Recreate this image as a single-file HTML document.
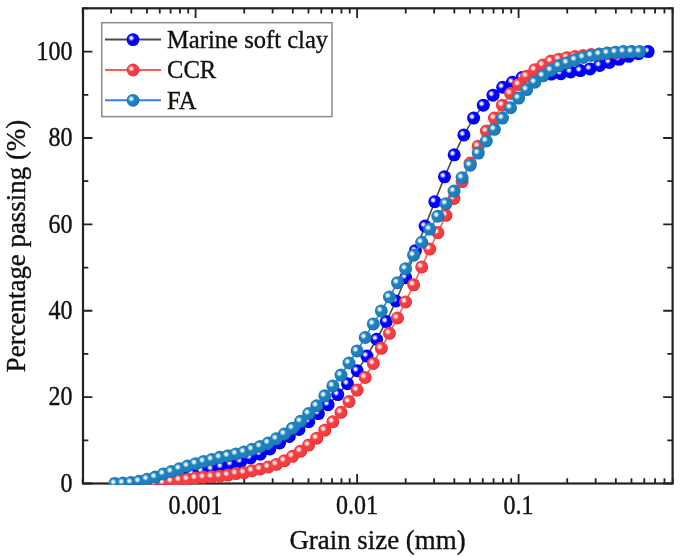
<!DOCTYPE html><html><head><meta charset="utf-8"><style>html,body{margin:0;padding:0;background:#fff;}svg{display:block;filter:blur(0.45px);}text{font-family:"Liberation Serif",serif;fill:#111;stroke:#111;stroke-width:0.35px;}</style></head><body><svg width="685" height="557" viewBox="0 0 685 557"><defs><radialGradient id="gb" cx="0.37" cy="0.38" r="0.7" fx="0.37" fy="0.38"><stop offset="0" stop-color="#f0f0ff"/><stop offset="0.1" stop-color="#f0f0ff"/><stop offset="0.36" stop-color="#0000ff"/><stop offset="0.74" stop-color="#0000ff"/><stop offset="0.98" stop-color="#0000d0"/></radialGradient><radialGradient id="gr" cx="0.37" cy="0.38" r="0.7" fx="0.37" fy="0.38"><stop offset="0" stop-color="#fff0f0"/><stop offset="0.1" stop-color="#fff0f0"/><stop offset="0.36" stop-color="#f53c40"/><stop offset="0.74" stop-color="#f53c40"/><stop offset="0.98" stop-color="#d52a30"/></radialGradient><radialGradient id="gf" cx="0.37" cy="0.38" r="0.7" fx="0.37" fy="0.38"><stop offset="0" stop-color="#eef6fa"/><stop offset="0.1" stop-color="#eef6fa"/><stop offset="0.36" stop-color="#1c80bf"/><stop offset="0.74" stop-color="#1c80bf"/><stop offset="0.98" stop-color="#15659a"/></radialGradient><clipPath id="cp"><rect x="83.0" y="8.3" width="589.6" height="476.4"/></clipPath></defs><rect width="685" height="557" fill="#fff"/><path d="M82.72 483.50V478.20 M82.72 8.30V13.60 M111.16 483.50V478.20 M111.16 8.30V13.60 M131.33 483.50V478.20 M131.33 8.30V13.60 M146.98 483.50V478.20 M146.98 8.30V13.60 M159.77 483.50V478.20 M159.77 8.30V13.60 M170.58 483.50V478.20 M170.58 8.30V13.60 M179.95 483.50V478.20 M179.95 8.30V13.60 M188.21 483.50V478.20 M188.21 8.30V13.60 M195.60 483.50V473.90 M195.60 8.30V17.90 M244.22 483.50V478.20 M244.22 8.30V13.60 M272.66 483.50V478.20 M272.66 8.30V13.60 M292.83 483.50V478.20 M292.83 8.30V13.60 M308.48 483.50V478.20 M308.48 8.30V13.60 M321.27 483.50V478.20 M321.27 8.30V13.60 M332.08 483.50V478.20 M332.08 8.30V13.60 M341.45 483.50V478.20 M341.45 8.30V13.60 M349.71 483.50V478.20 M349.71 8.30V13.60 M357.10 483.50V473.90 M357.10 8.30V17.90 M405.72 483.50V478.20 M405.72 8.30V13.60 M434.16 483.50V478.20 M434.16 8.30V13.60 M454.33 483.50V478.20 M454.33 8.30V13.60 M469.98 483.50V478.20 M469.98 8.30V13.60 M482.77 483.50V478.20 M482.77 8.30V13.60 M493.58 483.50V478.20 M493.58 8.30V13.60 M502.95 483.50V478.20 M502.95 8.30V13.60 M511.21 483.50V478.20 M511.21 8.30V13.60 M518.60 483.50V473.90 M518.60 8.30V17.90 M567.22 483.50V478.20 M567.22 8.30V13.60 M595.66 483.50V478.20 M595.66 8.30V13.60 M615.83 483.50V478.20 M615.83 8.30V13.60 M631.48 483.50V478.20 M631.48 8.30V13.60 M644.27 483.50V478.20 M644.27 8.30V13.60 M655.08 483.50V478.20 M655.08 8.30V13.60 M664.45 483.50V478.20 M664.45 8.30V13.60 M672.71 483.50V478.20 M672.71 8.30V13.60 M83.00 483.50H92.40 M672.60 483.50H663.20 M83.00 440.31H88.30 M672.60 440.31H667.30 M83.00 397.12H92.40 M672.60 397.12H663.20 M83.00 353.93H88.30 M672.60 353.93H667.30 M83.00 310.74H92.40 M672.60 310.74H663.20 M83.00 267.55H88.30 M672.60 267.55H667.30 M83.00 224.36H92.40 M672.60 224.36H663.20 M83.00 181.17H88.30 M672.60 181.17H667.30 M83.00 137.98H92.40 M672.60 137.98H663.20 M83.00 94.79H88.30 M672.60 94.79H667.30 M83.00 51.60H92.40 M672.60 51.60H663.20 M83.00 8.41H88.30 M672.60 8.41H667.30" stroke="#222" stroke-width="1.8" fill="none"/><rect x="83.0" y="8.3" width="589.6" height="475.2" fill="none" stroke="#222" stroke-width="2.2"/><g clip-path="url(#cp)"><path d="M134.10 483.50 L143.80 483.07 L153.50 481.77 L163.20 480.04 L172.90 477.89 L182.60 475.73 L192.30 473.57 L202.00 471.41 L211.70 469.20 L221.40 467.00 L231.10 464.50 L240.80 461.69 L250.50 458.02 L260.20 454.13 L269.90 448.95 L279.60 442.90 L289.30 436.42 L299.00 429.51 L308.70 421.74 L318.40 413.53 L328.10 404.68 L337.80 394.53 L347.50 383.73 L357.20 370.77 L366.90 356.09 L376.60 339.25 L386.30 321.62 L396.00 300.98 L405.70 277.70 L415.40 250.71 L425.10 226.09 L434.80 201.69 L444.50 176.85 L454.20 154.82 L463.90 134.96 L473.60 118.11 L483.30 105.16 L493.00 95.22 L502.70 87.23 L512.40 82.26 L522.10 77.51 L531.80 76.22 L541.50 74.92 L551.20 74.06 L560.90 73.63 L570.60 71.90 L580.30 70.60 L590.00 68.88 L599.70 65.42 L609.40 62.40 L619.10 59.37 L628.80 56.35 L638.50 53.76 L648.20 51.60" stroke="#4a4a4a" stroke-width="1.6" fill="none"/><circle cx="134.10" cy="483.50" r="6.5" fill="url(#gb)"/><circle cx="143.80" cy="483.07" r="6.5" fill="url(#gb)"/><circle cx="153.50" cy="481.77" r="6.5" fill="url(#gb)"/><circle cx="163.20" cy="480.04" r="6.5" fill="url(#gb)"/><circle cx="172.90" cy="477.89" r="6.5" fill="url(#gb)"/><circle cx="182.60" cy="475.73" r="6.5" fill="url(#gb)"/><circle cx="192.30" cy="473.57" r="6.5" fill="url(#gb)"/><circle cx="202.00" cy="471.41" r="6.5" fill="url(#gb)"/><circle cx="211.70" cy="469.20" r="6.5" fill="url(#gb)"/><circle cx="221.40" cy="467.00" r="6.5" fill="url(#gb)"/><circle cx="231.10" cy="464.50" r="6.5" fill="url(#gb)"/><circle cx="240.80" cy="461.69" r="6.5" fill="url(#gb)"/><circle cx="250.50" cy="458.02" r="6.5" fill="url(#gb)"/><circle cx="260.20" cy="454.13" r="6.5" fill="url(#gb)"/><circle cx="269.90" cy="448.95" r="6.5" fill="url(#gb)"/><circle cx="279.60" cy="442.90" r="6.5" fill="url(#gb)"/><circle cx="289.30" cy="436.42" r="6.5" fill="url(#gb)"/><circle cx="299.00" cy="429.51" r="6.5" fill="url(#gb)"/><circle cx="308.70" cy="421.74" r="6.5" fill="url(#gb)"/><circle cx="318.40" cy="413.53" r="6.5" fill="url(#gb)"/><circle cx="328.10" cy="404.68" r="6.5" fill="url(#gb)"/><circle cx="337.80" cy="394.53" r="6.5" fill="url(#gb)"/><circle cx="347.50" cy="383.73" r="6.5" fill="url(#gb)"/><circle cx="357.20" cy="370.77" r="6.5" fill="url(#gb)"/><circle cx="366.90" cy="356.09" r="6.5" fill="url(#gb)"/><circle cx="376.60" cy="339.25" r="6.5" fill="url(#gb)"/><circle cx="386.30" cy="321.62" r="6.5" fill="url(#gb)"/><circle cx="396.00" cy="300.98" r="6.5" fill="url(#gb)"/><circle cx="405.70" cy="277.70" r="6.5" fill="url(#gb)"/><circle cx="415.40" cy="250.71" r="6.5" fill="url(#gb)"/><circle cx="425.10" cy="226.09" r="6.5" fill="url(#gb)"/><circle cx="434.80" cy="201.69" r="6.5" fill="url(#gb)"/><circle cx="444.50" cy="176.85" r="6.5" fill="url(#gb)"/><circle cx="454.20" cy="154.82" r="6.5" fill="url(#gb)"/><circle cx="463.90" cy="134.96" r="6.5" fill="url(#gb)"/><circle cx="473.60" cy="118.11" r="6.5" fill="url(#gb)"/><circle cx="483.30" cy="105.16" r="6.5" fill="url(#gb)"/><circle cx="493.00" cy="95.22" r="6.5" fill="url(#gb)"/><circle cx="502.70" cy="87.23" r="6.5" fill="url(#gb)"/><circle cx="512.40" cy="82.26" r="6.5" fill="url(#gb)"/><circle cx="522.10" cy="77.51" r="6.5" fill="url(#gb)"/><circle cx="531.80" cy="76.22" r="6.5" fill="url(#gb)"/><circle cx="541.50" cy="74.92" r="6.5" fill="url(#gb)"/><circle cx="551.20" cy="74.06" r="6.5" fill="url(#gb)"/><circle cx="560.90" cy="73.63" r="6.5" fill="url(#gb)"/><circle cx="570.60" cy="71.90" r="6.5" fill="url(#gb)"/><circle cx="580.30" cy="70.60" r="6.5" fill="url(#gb)"/><circle cx="590.00" cy="68.88" r="6.5" fill="url(#gb)"/><circle cx="599.70" cy="65.42" r="6.5" fill="url(#gb)"/><circle cx="609.40" cy="62.40" r="6.5" fill="url(#gb)"/><circle cx="619.10" cy="59.37" r="6.5" fill="url(#gb)"/><circle cx="628.80" cy="56.35" r="6.5" fill="url(#gb)"/><circle cx="638.50" cy="53.76" r="6.5" fill="url(#gb)"/><circle cx="648.20" cy="51.60" r="6.5" fill="url(#gb)"/><path d="M147.15 483.50 L155.22 483.50 L163.30 482.85 L171.38 481.34 L179.45 480.04 L187.53 479.18 L195.60 478.10 L203.67 477.37 L211.75 476.72 L219.82 476.16 L227.90 475.08 L235.97 473.57 L244.05 472.70 L252.12 470.72 L260.20 468.99 L268.27 467.00 L276.35 464.41 L284.43 460.70 L292.50 456.29 L300.57 451.19 L308.65 445.10 L316.73 438.15 L324.80 430.20 L332.88 421.70 L340.95 412.28 L349.02 401.61 L357.10 390.08 L365.17 377.47 L373.25 363.43 L381.32 348.32 L389.40 333.29 L397.48 318.00 L405.55 301.89 L413.62 284.78 L421.70 266.90 L429.77 248.98 L437.85 232.57 L445.92 215.29 L454.00 198.45 L462.08 181.60 L470.15 163.03 L478.23 146.19 L486.30 131.07 L494.38 118.11 L502.45 105.16 L510.52 93.49 L518.60 84.42 L526.67 76.22 L534.75 69.74 L542.83 64.99 L550.90 61.10 L558.98 59.16 L567.05 57.65 L575.12 56.57 L583.20 55.49 L591.27 54.62 L599.35 53.98 L607.42 53.33 L615.50 52.68 L623.58 52.25 L631.65 51.82" stroke="#ff5a5a" stroke-width="1.6" fill="none"/><circle cx="147.15" cy="483.50" r="6.5" fill="url(#gr)"/><circle cx="155.22" cy="483.50" r="6.5" fill="url(#gr)"/><circle cx="163.30" cy="482.85" r="6.5" fill="url(#gr)"/><circle cx="171.38" cy="481.34" r="6.5" fill="url(#gr)"/><circle cx="179.45" cy="480.04" r="6.5" fill="url(#gr)"/><circle cx="187.53" cy="479.18" r="6.5" fill="url(#gr)"/><circle cx="195.60" cy="478.10" r="6.5" fill="url(#gr)"/><circle cx="203.67" cy="477.37" r="6.5" fill="url(#gr)"/><circle cx="211.75" cy="476.72" r="6.5" fill="url(#gr)"/><circle cx="219.82" cy="476.16" r="6.5" fill="url(#gr)"/><circle cx="227.90" cy="475.08" r="6.5" fill="url(#gr)"/><circle cx="235.97" cy="473.57" r="6.5" fill="url(#gr)"/><circle cx="244.05" cy="472.70" r="6.5" fill="url(#gr)"/><circle cx="252.12" cy="470.72" r="6.5" fill="url(#gr)"/><circle cx="260.20" cy="468.99" r="6.5" fill="url(#gr)"/><circle cx="268.27" cy="467.00" r="6.5" fill="url(#gr)"/><circle cx="276.35" cy="464.41" r="6.5" fill="url(#gr)"/><circle cx="284.43" cy="460.70" r="6.5" fill="url(#gr)"/><circle cx="292.50" cy="456.29" r="6.5" fill="url(#gr)"/><circle cx="300.57" cy="451.19" r="6.5" fill="url(#gr)"/><circle cx="308.65" cy="445.10" r="6.5" fill="url(#gr)"/><circle cx="316.73" cy="438.15" r="6.5" fill="url(#gr)"/><circle cx="324.80" cy="430.20" r="6.5" fill="url(#gr)"/><circle cx="332.88" cy="421.70" r="6.5" fill="url(#gr)"/><circle cx="340.95" cy="412.28" r="6.5" fill="url(#gr)"/><circle cx="349.02" cy="401.61" r="6.5" fill="url(#gr)"/><circle cx="357.10" cy="390.08" r="6.5" fill="url(#gr)"/><circle cx="365.17" cy="377.47" r="6.5" fill="url(#gr)"/><circle cx="373.25" cy="363.43" r="6.5" fill="url(#gr)"/><circle cx="381.32" cy="348.32" r="6.5" fill="url(#gr)"/><circle cx="389.40" cy="333.29" r="6.5" fill="url(#gr)"/><circle cx="397.48" cy="318.00" r="6.5" fill="url(#gr)"/><circle cx="405.55" cy="301.89" r="6.5" fill="url(#gr)"/><circle cx="413.62" cy="284.78" r="6.5" fill="url(#gr)"/><circle cx="421.70" cy="266.90" r="6.5" fill="url(#gr)"/><circle cx="429.77" cy="248.98" r="6.5" fill="url(#gr)"/><circle cx="437.85" cy="232.57" r="6.5" fill="url(#gr)"/><circle cx="445.92" cy="215.29" r="6.5" fill="url(#gr)"/><circle cx="454.00" cy="198.45" r="6.5" fill="url(#gr)"/><circle cx="462.08" cy="181.60" r="6.5" fill="url(#gr)"/><circle cx="470.15" cy="163.03" r="6.5" fill="url(#gr)"/><circle cx="478.23" cy="146.19" r="6.5" fill="url(#gr)"/><circle cx="486.30" cy="131.07" r="6.5" fill="url(#gr)"/><circle cx="494.38" cy="118.11" r="6.5" fill="url(#gr)"/><circle cx="502.45" cy="105.16" r="6.5" fill="url(#gr)"/><circle cx="510.52" cy="93.49" r="6.5" fill="url(#gr)"/><circle cx="518.60" cy="84.42" r="6.5" fill="url(#gr)"/><circle cx="526.67" cy="76.22" r="6.5" fill="url(#gr)"/><circle cx="534.75" cy="69.74" r="6.5" fill="url(#gr)"/><circle cx="542.83" cy="64.99" r="6.5" fill="url(#gr)"/><circle cx="550.90" cy="61.10" r="6.5" fill="url(#gr)"/><circle cx="558.98" cy="59.16" r="6.5" fill="url(#gr)"/><circle cx="567.05" cy="57.65" r="6.5" fill="url(#gr)"/><circle cx="575.12" cy="56.57" r="6.5" fill="url(#gr)"/><circle cx="583.20" cy="55.49" r="6.5" fill="url(#gr)"/><circle cx="591.27" cy="54.62" r="6.5" fill="url(#gr)"/><circle cx="599.35" cy="53.98" r="6.5" fill="url(#gr)"/><circle cx="607.42" cy="53.33" r="6.5" fill="url(#gr)"/><circle cx="615.50" cy="52.68" r="6.5" fill="url(#gr)"/><circle cx="623.58" cy="52.25" r="6.5" fill="url(#gr)"/><circle cx="631.65" cy="51.82" r="6.5" fill="url(#gr)"/><path d="M114.85 483.50 L122.92 482.98 L131.00 482.51 L139.07 481.30 L147.15 479.18 L155.22 477.11 L163.30 473.91 L171.38 471.62 L179.45 468.69 L187.53 466.01 L195.60 463.63 L203.67 461.47 L211.75 459.53 L219.82 457.37 L227.90 455.86 L235.97 453.91 L244.05 451.97 L252.12 449.29 L260.20 446.40 L268.27 442.90 L276.35 438.80 L284.43 434.00 L292.50 428.22 L300.57 421.31 L308.65 413.53 L316.73 405.76 L324.80 395.82 L332.88 385.89 L340.95 375.09 L349.02 363.00 L357.10 350.91 L365.17 337.52 L373.25 323.91 L381.32 310.91 L389.40 297.01 L397.48 282.71 L405.55 268.72 L413.62 255.20 L421.70 242.28 L429.77 229.11 L437.85 216.15 L445.92 203.63 L454.00 191.10 L462.08 177.71 L470.15 165.19 L478.23 153.10 L486.30 141.00 L494.38 129.34 L502.45 118.11 L510.52 107.75 L518.60 98.03 L526.67 89.61 L534.75 82.26 L542.83 75.79 L550.90 70.17 L558.98 65.85 L567.05 62.83 L575.12 59.81 L583.20 57.43 L591.27 55.49 L599.35 54.19 L607.42 53.11 L615.50 52.20 L623.58 51.60 L631.65 51.60 L639.73 51.60" stroke="#3a7fe6" stroke-width="1.6" fill="none"/><circle cx="114.85" cy="483.50" r="6.5" fill="url(#gf)"/><circle cx="122.92" cy="482.98" r="6.5" fill="url(#gf)"/><circle cx="131.00" cy="482.51" r="6.5" fill="url(#gf)"/><circle cx="139.07" cy="481.30" r="6.5" fill="url(#gf)"/><circle cx="147.15" cy="479.18" r="6.5" fill="url(#gf)"/><circle cx="155.22" cy="477.11" r="6.5" fill="url(#gf)"/><circle cx="163.30" cy="473.91" r="6.5" fill="url(#gf)"/><circle cx="171.38" cy="471.62" r="6.5" fill="url(#gf)"/><circle cx="179.45" cy="468.69" r="6.5" fill="url(#gf)"/><circle cx="187.53" cy="466.01" r="6.5" fill="url(#gf)"/><circle cx="195.60" cy="463.63" r="6.5" fill="url(#gf)"/><circle cx="203.67" cy="461.47" r="6.5" fill="url(#gf)"/><circle cx="211.75" cy="459.53" r="6.5" fill="url(#gf)"/><circle cx="219.82" cy="457.37" r="6.5" fill="url(#gf)"/><circle cx="227.90" cy="455.86" r="6.5" fill="url(#gf)"/><circle cx="235.97" cy="453.91" r="6.5" fill="url(#gf)"/><circle cx="244.05" cy="451.97" r="6.5" fill="url(#gf)"/><circle cx="252.12" cy="449.29" r="6.5" fill="url(#gf)"/><circle cx="260.20" cy="446.40" r="6.5" fill="url(#gf)"/><circle cx="268.27" cy="442.90" r="6.5" fill="url(#gf)"/><circle cx="276.35" cy="438.80" r="6.5" fill="url(#gf)"/><circle cx="284.43" cy="434.00" r="6.5" fill="url(#gf)"/><circle cx="292.50" cy="428.22" r="6.5" fill="url(#gf)"/><circle cx="300.57" cy="421.31" r="6.5" fill="url(#gf)"/><circle cx="308.65" cy="413.53" r="6.5" fill="url(#gf)"/><circle cx="316.73" cy="405.76" r="6.5" fill="url(#gf)"/><circle cx="324.80" cy="395.82" r="6.5" fill="url(#gf)"/><circle cx="332.88" cy="385.89" r="6.5" fill="url(#gf)"/><circle cx="340.95" cy="375.09" r="6.5" fill="url(#gf)"/><circle cx="349.02" cy="363.00" r="6.5" fill="url(#gf)"/><circle cx="357.10" cy="350.91" r="6.5" fill="url(#gf)"/><circle cx="365.17" cy="337.52" r="6.5" fill="url(#gf)"/><circle cx="373.25" cy="323.91" r="6.5" fill="url(#gf)"/><circle cx="381.32" cy="310.91" r="6.5" fill="url(#gf)"/><circle cx="389.40" cy="297.01" r="6.5" fill="url(#gf)"/><circle cx="397.48" cy="282.71" r="6.5" fill="url(#gf)"/><circle cx="405.55" cy="268.72" r="6.5" fill="url(#gf)"/><circle cx="413.62" cy="255.20" r="6.5" fill="url(#gf)"/><circle cx="421.70" cy="242.28" r="6.5" fill="url(#gf)"/><circle cx="429.77" cy="229.11" r="6.5" fill="url(#gf)"/><circle cx="437.85" cy="216.15" r="6.5" fill="url(#gf)"/><circle cx="445.92" cy="203.63" r="6.5" fill="url(#gf)"/><circle cx="454.00" cy="191.10" r="6.5" fill="url(#gf)"/><circle cx="462.08" cy="177.71" r="6.5" fill="url(#gf)"/><circle cx="470.15" cy="165.19" r="6.5" fill="url(#gf)"/><circle cx="478.23" cy="153.10" r="6.5" fill="url(#gf)"/><circle cx="486.30" cy="141.00" r="6.5" fill="url(#gf)"/><circle cx="494.38" cy="129.34" r="6.5" fill="url(#gf)"/><circle cx="502.45" cy="118.11" r="6.5" fill="url(#gf)"/><circle cx="510.52" cy="107.75" r="6.5" fill="url(#gf)"/><circle cx="518.60" cy="98.03" r="6.5" fill="url(#gf)"/><circle cx="526.67" cy="89.61" r="6.5" fill="url(#gf)"/><circle cx="534.75" cy="82.26" r="6.5" fill="url(#gf)"/><circle cx="542.83" cy="75.79" r="6.5" fill="url(#gf)"/><circle cx="550.90" cy="70.17" r="6.5" fill="url(#gf)"/><circle cx="558.98" cy="65.85" r="6.5" fill="url(#gf)"/><circle cx="567.05" cy="62.83" r="6.5" fill="url(#gf)"/><circle cx="575.12" cy="59.81" r="6.5" fill="url(#gf)"/><circle cx="583.20" cy="57.43" r="6.5" fill="url(#gf)"/><circle cx="591.27" cy="55.49" r="6.5" fill="url(#gf)"/><circle cx="599.35" cy="54.19" r="6.5" fill="url(#gf)"/><circle cx="607.42" cy="53.11" r="6.5" fill="url(#gf)"/><circle cx="615.50" cy="52.20" r="6.5" fill="url(#gf)"/><circle cx="623.58" cy="51.60" r="6.5" fill="url(#gf)"/><circle cx="631.65" cy="51.60" r="6.5" fill="url(#gf)"/><circle cx="639.73" cy="51.60" r="6.5" fill="url(#gf)"/></g><rect x="101.8" y="22.7" width="230.2" height="93.9" fill="#fff" stroke="#8a8a8a" stroke-width="1.5"/><path d="M105 39.6H161" stroke="#4a4a4a" stroke-width="2"/><circle cx="133" cy="39.6" r="6.4" fill="url(#gb)"/><text x="167" y="47.8" font-size="24.6">Marine soft clay</text><path d="M105 70.0H161" stroke="#ff5a5a" stroke-width="2"/><circle cx="133" cy="70.0" r="6.4" fill="url(#gr)"/><text x="167" y="78.2" font-size="24.6">CCR</text><path d="M105 100.3H161" stroke="#3a7fe6" stroke-width="2"/><circle cx="133" cy="100.3" r="6.4" fill="url(#gf)"/><text x="167" y="108.5" font-size="24.6">FA</text><text transform="translate(195.60 514) scale(1 1.12)" font-size="24" text-anchor="middle">0.001</text><text transform="translate(357.10 514) scale(1 1.12)" font-size="24" text-anchor="middle">0.01</text><text transform="translate(518.60 514) scale(1 1.12)" font-size="24" text-anchor="middle">0.1</text><text transform="translate(72.5 491.80) scale(1 1.12)" font-size="24" text-anchor="end">0</text><text transform="translate(72.5 405.42) scale(1 1.12)" font-size="24" text-anchor="end">20</text><text transform="translate(72.5 319.04) scale(1 1.12)" font-size="24" text-anchor="end">40</text><text transform="translate(72.5 232.66) scale(1 1.12)" font-size="24" text-anchor="end">60</text><text transform="translate(72.5 146.28) scale(1 1.12)" font-size="24" text-anchor="end">80</text><text transform="translate(72.5 59.90) scale(1 1.12)" font-size="24" text-anchor="end">100</text><text x="377.5" y="549" font-size="26.9" text-anchor="middle">Grain size (mm)</text><text transform="translate(25,246) rotate(-90)" x="0" y="0" font-size="26.9" text-anchor="middle">Percentage passing (%)</text></svg></body></html>
